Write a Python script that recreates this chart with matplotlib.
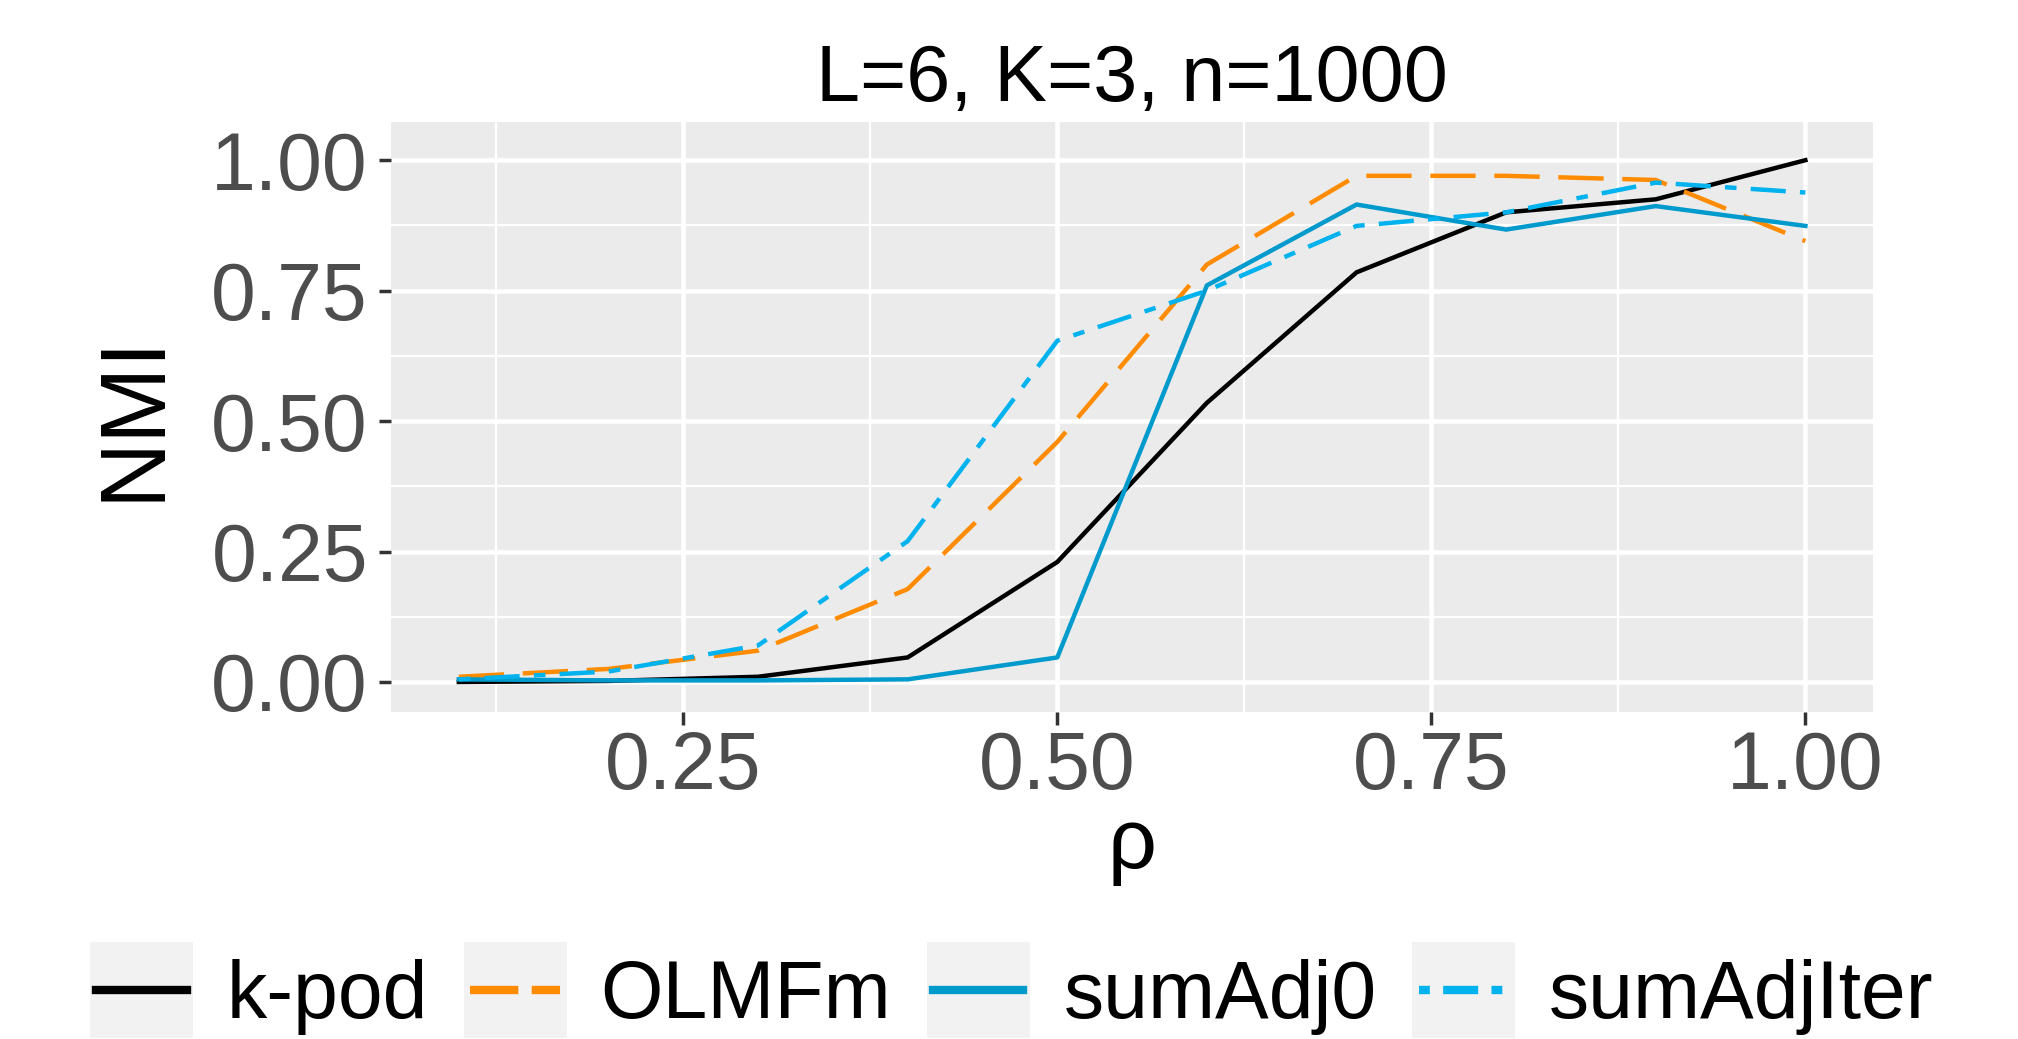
import numpy as np
import matplotlib.pyplot as plt
from matplotlib.patches import Rectangle

plt.rcParams['font.family'] = ['Liberation Sans', 'DejaVu Sans']

rho = [0.1, 0.2, 0.3, 0.4, 0.5, 0.6, 0.7, 0.8, 0.9, 1.0]
kpod = [0.0, 0.002, 0.01, 0.047, 0.23, 0.535, 0.785, 0.90, 0.925, 1.0]
olmfm = [0.01, 0.025, 0.06, 0.178, 0.46, 0.80, 0.97, 0.97, 0.962, 0.845]
sumadj0 = [0.005, 0.003, 0.003, 0.005, 0.047, 0.76, 0.915, 0.867, 0.912, 0.874]
sumadjiter = [0.005, 0.02, 0.07, 0.27, 0.654, 0.75, 0.874, 0.90, 0.957, 0.938]

names = ['k-pod', 'OLMFm', 'sumAdj0', 'sumAdjIter']
colors = ['#000000', '#FF8C00', '#009ACD', '#00B2EE']
styles = ['-', (0, (10.2, 4.2)), '-', (0, (2.6, 3.2, 7.9, 3.2))]
key_styles = ['-', (0, (5.8, 1.6)), '-', (0, (1.3, 1.6, 4.2, 1.6))]

fig = plt.figure(figsize=(20.18, 10.39), dpi=100)
ax = fig.add_axes([0.194, 0.315, 0.734, 0.568])
ax.set_facecolor('#EBEBEB')

for y, name, c, ls in zip([kpod, olmfm, sumadj0, sumadjiter], names, colors, styles):
    ax.plot(rho, y, color=c, linestyle=ls, lw=3.2, label=name, zorder=3)

ax.set_xlim(0.055, 1.045)
ax.set_ylim(-0.057, 1.074)
ax.set_xticks([0.25, 0.5, 0.75, 1.0])
ax.set_xticklabels(['0.25', '0.50', '0.75', '1.00'])
ax.set_yticks([0, 0.25, 0.5, 0.75, 1.0])
ax.set_yticklabels(['0.00', '0.25', '0.50', '0.75', '1.00'])
ax.set_xticks([0.125, 0.375, 0.625, 0.875], minor=True)
ax.set_yticks([0.125, 0.375, 0.625, 0.875], minor=True)
ax.grid(which='major', color='white', lw=3.3, zorder=1)
ax.grid(which='minor', color='white', lw=1.6, zorder=1)
ax.set_axisbelow(True)
for s in ax.spines.values():
    s.set_visible(False)
ax.tick_params(which='major', labelsize=58, labelcolor='#4D4D4D', color='#333333',
               length=9, width=2.5)
ax.tick_params(axis='x', pad=4)
ax.tick_params(axis='y', pad=8)
ax.tick_params(which='minor', length=0)

ax.set_title('L=6, K=3, n=1000', fontsize=57, pad=15)
ax.set_xlabel('ρ', fontsize=62, labelpad=0)
ax.set_ylabel('NMI', fontsize=66, labelpad=24)

leg = fig.legend(loc='center', bbox_to_anchor=(0.503, 0.04), ncol=4, frameon=False,
                 fontsize=58, handlelength=1.12, handletextpad=0.5, columnspacing=0.52,
                 borderaxespad=0, borderpad=0)
for line, ls in zip(leg.get_lines(), key_styles):
    line.set_linewidth(6)
    line.set_linestyle(ls)

# grey key backgrounds like ggplot
fig.canvas.draw()
for line in leg.get_lines():
    bb = line.get_window_extent()
    cx = (bb.x0 + bb.x1) / 2
    cy = (bb.y0 + bb.y1) / 2
    w, h = 103, 96
    fig.patches.append(Rectangle((cx - w / 2, cy - h / 2), w, h, transform=None,
                                 facecolor='#F2F2F2', edgecolor='none', zorder=0))

fig.savefig('out.png', dpi=100)
